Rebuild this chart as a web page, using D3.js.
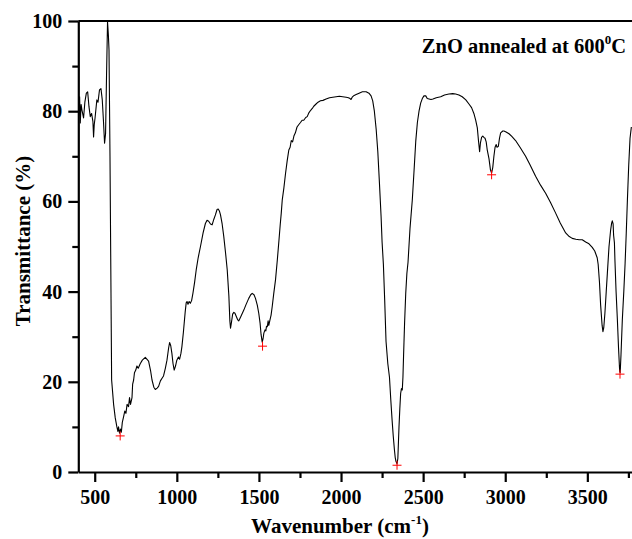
<!DOCTYPE html>
<html>
<head>
<meta charset="utf-8">
<script src="https://cdn.jsdelivr.net/npm/d3@7"></script>
<style>
body{margin:0;background:#fff;}
svg{display:block;}
svg text{font-family:"Liberation Serif","Times New Roman",serif;font-weight:bold;}
</style>
</head>
<body>
<svg id="chart" width="632" height="539"></svg>
<script>
'use strict';

// FTIR spectrum (wavenumber cm-1, transmittance %)
var wavenumber=[402,408,412,417,422,432,440,449,457,465,473,481,489,493,497,502,513,520,529,538,546,553,560,566,572,578,583,587,593,598,603,615,625,635,641,645,651,657,662,668,676,683,690,697,706,712,718,727,731,737,742,750,757,765,777,790,808,828,840,849,860,869,880,889,900,910,919,930,940,950,956,963,970,977,984,992,1000,1010,1017,1025,1031,1040,1051,1057,1062,1068,1075,1082,1090,1098,1108,1118,1130,1144,1160,1174,1184,1194,1205,1215,1225,1235,1245,1252,1260,1266,1276,1286,1297,1307,1317,1323,1327,1332,1340,1347,1354,1361,1370,1377,1390,1408,1420,1438,1450,1459,1470,1479,1490,1499,1507,1513,1520,1525,1530,1537,1542,1546,1551,1556,1560,1567,1574,1581,1590,1601,1612,1622,1630,1636,1642,1652,1662,1672,1682,1690,1697,1705,1713,1722,1732,1742,1753,1763,1773,1785,1794,1805,1815,1825,1834,1848,1860,1875,1890,1909,1930,1950,1970,1990,2010,2031,2045,2055,2061,2068,2080,2092,2110,2130,2153,2170,2183,2193,2203,2214,2224,2234,2244,2250,2258,2266,2274,2285,2295,2303,2311,2318,2325,2330,2335,2341,2346,2350,2353,2358,2363,2368,2373,2377,2381,2387,2394,2401,2408,2420,2434,2445,2455,2465,2475,2485,2495,2505,2516,2525,2536,2548,2560,2580,2607,2630,2657,2680,2698,2718,2738,2760,2779,2795,2809,2820,2830,2837,2844,2849,2856,2863,2870,2877,2884,2890,2901,2910,2917,2924,2931,2938,2945,2950,2958,2965,2972,2985,2992,3005,3023,3040,3063,3090,3124,3150,3185,3215,3246,3275,3307,3335,3368,3390,3408,3430,3450,3469,3490,3510,3530,3545,3550,3560,3566,3574,3581,3590,3595,3600,3607,3615,3622,3632,3642,3648,3652,3657,3660,3665,3668,3675,3683,3690,3697,3700,3705,3713,3722,3730,3737,3744,3752,3760,3768];
var transmittance=[79,83.2,77.4,81.5,80.3,78.5,82,84,84.3,81,78.8,79.5,77.7,74.3,77,78.5,82.5,82,84.7,85,82.5,78,72.9,75,88,99.8,97,93.6,70,45,20.4,15,12,10,9,10,8.6,9.5,8.8,11,12.3,13.5,13,15,14.5,16.5,15,16.5,19.5,20.4,22,22.6,23.5,23,24,24.8,25.4,24.6,22.5,20.4,18.8,18.3,18.6,19,20.2,20.8,21.3,23,24.8,27.5,28.7,28,26.3,24,22.6,23.5,24.8,25.5,25,26.3,27.8,31,35.5,37.5,37.8,37.2,37.8,37.4,38,39.6,42,44.8,47.5,50,53,55.1,55.8,55.6,55,54.8,56,57,58.2,58.3,57.8,57,55,52.2,48.5,44.8,39,33.5,31.9,33,35,35.4,35.2,34.6,33.8,33.5,34.5,35.9,37,38.5,39.3,39.6,39.3,38.5,37,35.2,33,30.5,28.8,29.5,30.8,31.5,31.3,32.3,32.2,33.5,32.5,33.7,34.8,36.7,39.5,42.6,47,51.4,55,57.4,60.3,63,66.2,69,71.4,72,73.5,73.2,74.5,75.2,76.5,77,77.5,78,78,78.6,78.8,79.7,80.2,80.6,81.1,81.6,82,82.3,82.4,82.7,83,83.1,83.2,83.3,83.2,83.1,83,82.8,82.6,83.1,83.5,83.7,84,84.3,84.3,84,83.4,82.3,80,76,71,64,56.6,51,46,38,29,24,21,16,11.5,8,5,3.2,2.3,1.8,3,7,10,14,17.4,18.5,18.2,21,26,33,39.6,44,46.5,54,60.3,67,73.3,77.5,80,81.8,82.8,83.4,83.4,82.8,82.7,82.6,82.7,83,83.2,83.6,83.8,83.9,83.8,83.6,83.2,82.5,81.6,80.8,79.5,78,76.3,73.5,71,73,74.2,74.5,74.2,74,73.2,71.5,69.5,67,66.3,67.5,70,72,72.6,72,72.2,74,75.2,75.6,75.6,75.4,75,74.4,73.5,72,70,68.2,65.6,63.6,61.8,59.8,57.4,55.2,53,52.2,51.8,51.6,51.5,51.5,51,50.6,49.8,49,48.5,47.5,46,42,37,32.5,31.1,32,35.2,40,44.1,50,53.7,55.2,55.7,55,52.5,50.8,47,40,33.7,27.5,22.3,22,26,33.7,40,46.3,53,60.3,68,74,76.5];

// picked peak positions (red crosses)
var peakX=[655,1522,2341,2917,3699];
var peakY=[8,27.9,1.5,65.9,21.7];

var xMajor=[500,1000,1500,2000,2500,3000,3500];
var xMinor=[750,1250,1750,2250,2750,3250,3750];
var yMajor=[0,20,40,60,80,100];
var yMinor=[10,30,50,70,90];

var svg=d3.select('#chart')
  , m={top:21,left:78.3}
  , w=558.3
  , h=451
  , g=svg.append('g').attr('transform','translate('+m.left+','+m.top+')');

var x=d3.scaleLinear().domain([400,3800]).range([0,w])
  , y=d3.scaleLinear().domain([0,100]).range([h,0]);

var pts=wavenumber.map(function(e,i){return [e,transmittance[i]];});

g.append('path')
    .datum(pts)
    .attr('fill','none')
    .attr('stroke','#000')
    .attr('stroke-width',1.1)
    .attr('stroke-linejoin','round')
    .attr('d',d3.line().x(function(d){return x(d[0]);}).y(function(d){return y(d[1]);}));

g.selectAll('path.peak')
    .data(peakX)
    .enter().append('path')
    .attr('class','peak')
    .attr('transform',function(d,i){return 'translate('+x(d)+','+y(peakY[i])+')';})
    .attr('d','M-4.5,0H4.5M0,-4.5V4.5')
    .attr('stroke','#f00')
    .attr('stroke-width',1);

// axes
var styleAxis=function(sel){
    sel.attr('font-family',null).attr('font-size',null);
    sel.selectAll('path,line').attr('stroke','#000').attr('stroke-width',2.2);
    sel.selectAll('text').attr('fill','#000').style('font-size','20px');
};

var xAx=g.append('g').attr('transform','translate(0,'+h+')')
    .call(d3.axisBottom(x).tickValues(xMajor).tickSize(10).tickSizeOuter(0).tickFormat(d3.format('d')))
    .call(styleAxis);
xAx.selectAll('text').attr('y',32).attr('dy',0);
g.append('g').attr('transform','translate(0,'+h+')')
    .call(d3.axisBottom(x).tickValues(xMinor).tickSize(6).tickSizeOuter(0).tickFormat(''))
    .call(styleAxis).select('.domain').remove();

var yAx=g.append('g')
    .call(d3.axisLeft(y).tickValues(yMajor).tickSize(10).tickSizeOuter(0))
    .call(styleAxis);
yAx.selectAll('text').attr('x',-16);
g.append('g')
    .call(d3.axisLeft(y).tickValues(yMinor).tickSize(6).tickSizeOuter(0).tickFormat(''))
    .call(styleAxis).select('.domain').remove();

g.append('line')
    .attr('x1',0).attr('x2',w).attr('y1',0).attr('y2',0)
    .attr('stroke','#000').attr('stroke-width',2.2);
g.append('line')
    .attr('x1',w).attr('x2',w).attr('y1',0).attr('y2',h)
    .attr('stroke','#000').attr('stroke-width',2.2);

// titles
var xt=svg.append('text')
    .attr('x',340).attr('y',533)
    .attr('text-anchor','middle')
    .style('font-size','21px');
xt.append('tspan').text('Wavenumber (cm');
xt.append('tspan').attr('dy',-9).style('font-size','13px').text('-1');
xt.append('tspan').attr('dy',9).text(')');

svg.append('text')
    .attr('transform','translate(30,241) rotate(-90)')
    .attr('text-anchor','middle')
    .style('font-size','21px')
    .text('Transmittance (%)');

var note=svg.append('text')
    .attr('x',626).attr('y',53)
    .attr('text-anchor','end')
    .style('font-size','20.5px');
note.append('tspan').text('ZnO annealed at 600');
note.append('tspan').attr('dy',-9).style('font-size','13px').text('0');
note.append('tspan').attr('dy',9).text('C');
</script>
</body>
</html>
